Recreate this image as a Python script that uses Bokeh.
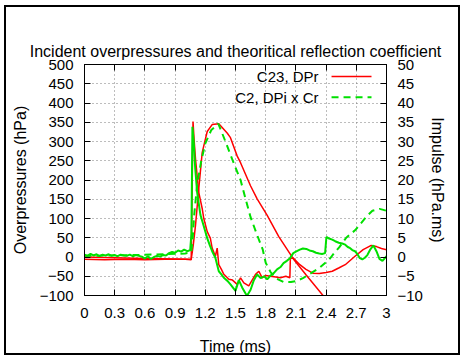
from bokeh.plotting import figure
from bokeh.models import (LinearAxis, Range1d, FixedTicker, Label, Arrow,
                          CustomJSTickFormatter)
from bokeh.embed import file_html
from bokeh.resources import INLINE

# ---- axis ticks -------------------------------------------------------
x_ticks = [0, 0.3, 0.6, 0.9, 1.2, 1.5, 1.8, 2.1, 2.4, 2.7, 3]
x_tick_labels = ["0", "0.3", "0.6", "0.9", "1.2", "1.5", "1.8", "2.1", "2.4", "2.7", "3"]
p_ticks = [-100, -50, 0, 50, 100, 150, 200, 250, 300, 350, 400, 450, 500]
imp_ticks = [-10, -5, 0, 5, 10, 15, 20, 25, 30, 35, 40, 45, 50]

# ---- C23 reflected overpressure (hPa) ----------------------------------
t_c23 = [0.0, 0.2, 0.4, 0.6, 0.8, 1.0, 1.06, 1.078, 1.09, 1.103, 1.135, 1.169,
         1.185, 1.219, 1.25, 1.268, 1.30, 1.318, 1.334, 1.36, 1.384, 1.434, 1.47,
         1.517, 1.55, 1.583, 1.632, 1.699, 1.732, 1.765, 1.80, 1.848, 1.90, 1.947,
         2.0, 2.04, 2.045, 2.074, 2.139, 2.20, 2.268, 2.332, 2.40, 2.461, 2.53,
         2.59, 2.687, 2.768, 2.848, 2.90, 2.95, 3.0]
p_c23 = [-6, -7, -6, -7, -6, -6, -7, 352, 300, 254, 168, 126,
         100, 66, 49, 23, 2, 23, -20, -32, -45, -58, -60,
         -71, -54, -67, -75, -45, -37, -54, -48, -50, -52, -54,
         -50, -54, -3, -3, -20, -32, -42, -43, -40, -37, -28,
         -20, 2, 19, 30, 27, 22, 19]

# ---- C23 impulse (hPa.ms) ----------------------------------------------
t_c23_imp = [0.0, 0.5, 1.0, 1.06, 1.08, 1.103, 1.135, 1.169, 1.219, 1.268, 1.334,
             1.417, 1.45, 1.517, 1.55, 1.649, 1.715, 1.815, 1.93, 2.075, 2.20, 2.385,
             2.42]
i_c23 = [0.0, -0.3, -0.6, -0.6, 3.0, 8.3, 17.7, 27.1, 32.6, 34.4, 34.6,
         32.2, 31.0, 26.2, 24.5, 18.5, 15.1, 10.8, 5.3, -0.5, -4.6, -10.5,
         -11.7]

# ---- C2 incident overpressure x reflection coefficient (hPa) ------------
t_c2 = [0.00, 0.03, 0.06, 0.09, 0.12, 0.15, 0.18, 0.21, 0.24, 0.27, 0.30, 0.33,
        0.36, 0.39, 0.42, 0.45, 0.48, 0.51, 0.54, 0.57, 0.60, 0.63, 0.66, 0.69,
        0.72, 0.75, 0.78, 0.81, 0.84, 0.87, 0.90, 0.93, 0.96, 0.99, 1.02, 1.05,
        1.062, 1.072, 1.085, 1.10, 1.119, 1.152, 1.185, 1.219, 1.245, 1.268, 1.30,
        1.334, 1.36, 1.384, 1.42, 1.45, 1.50, 1.533, 1.566, 1.60, 1.616, 1.65,
        1.68, 1.715, 1.75, 1.784, 1.815, 1.848, 1.88, 1.913, 1.947, 1.977, 2.01,
        2.042, 2.074, 2.10, 2.139, 2.17, 2.203, 2.235, 2.268, 2.30, 2.332, 2.36,
        2.39, 2.403, 2.43, 2.461, 2.49, 2.526, 2.56, 2.59, 2.615, 2.639, 2.66,
        2.687, 2.71, 2.735, 2.76, 2.785, 2.81, 2.84, 2.87, 2.90, 2.93, 2.96, 3.0]
p_c2 = [6, 3, 8, 4, 7, 2, 6, 4, 7, 3, 5, 2,
        6, 4, 3, 6, 2, 5, 3, 1, -4, 2, -5, 0,
        3, 1, 5, 4, 10, 13, 11, 17, 14, 19, 15, 18,
        60, 338, 300, 230, 168, 109, 80, 49, 30, 15, -2,
        -37, -45, -54, -62, -71, -88, -60, -79, -95, -100, -85,
        -62, -45, -55, -50, -58, -48, -42, -32, -26, -16, -10,
        -3, 10, 14, 19, 22, 21, 17, 15, 11, 9, 8,
        10, 52, 48, 45, 41, 37, 35, 32, 26, 23, 18,
        15, 8, -3, -6, -2, 5, 20, 30, 15, -5, -10, 2]

# ---- C2 impulse (hPa.ms) -----------------------------------------------
t_c2_imp = [0.0, 0.5, 1.0, 1.06, 1.075, 1.09, 1.12, 1.16, 1.20, 1.26, 1.33, 1.40,
            1.467, 1.55, 1.60, 1.649, 1.715, 1.77, 1.80, 1.85, 1.90, 1.98, 2.05,
            2.11, 2.17, 2.25, 2.33, 2.43, 2.48, 2.53, 2.60, 2.69, 2.77, 2.80, 2.86,
            2.93, 2.96, 3.0]
i_c2 = [0.3, 0.5, 0.9, 1.2, 5.0, 11.0, 19.0, 25.0, 29.5, 33.0, 34.6, 30.0,
        25.4, 20.0, 15.1, 10.4, 5.7, 2.0, -1.5, -4.0, -5.5, -6.5, -6.5,
        -6.2, -5.5, -4.2, -2.9, -0.7, 1.0, 2.5, 5.0, 7.0, 9.5, 10.5, 12.0,
        12.5, 12.3, 12.0]

TITLE = "Incident overpressures and theoritical reflection coefficient"

# ---- styling -----------------------------------------------------------
FONT = "Liberation Sans"
RED = "#ff0000"
GREEN = "#00e000"
DASH = "7 5"

# the figure sits inside a 2px black page frame drawn with CSS
p = figure(width=456, height=350, output_backend="svg", toolbar_location=None,
           x_range=Range1d(0, 3), y_range=Range1d(-100, 500), title=TITLE,
           x_axis_label="Time (ms)", y_axis_label="Overpressures (hPa)",
           min_border_left=78, min_border_right=76,
           min_border_top=57, min_border_bottom=59)
p.styles = {"border": "2px solid black", "margin-left": "4px", "margin-top": "5px"}
p.extra_y_ranges = {"impulse": Range1d(-10, 50)}

p.title.text_font = FONT
p.title.text_font_size = "16px"
p.title.text_font_style = "normal"
p.title.text_color = "black"
p.title.align = "center"
p.title.padding = (0, 0, 10, 0)

p.background_fill_color = "white"
p.border_fill_color = "white"
p.outline_line_color = "black"
p.outline_line_width = 1

bottom_axis = p.below[0]
left_axis = p.left[0]

right_axis = LinearAxis(y_range_name="impulse", axis_label="Impulse (hPa.ms)",
                        ticker=FixedTicker(ticks=imp_ticks))
p.add_layout(right_axis, "right")
# mirrored ticks along the top edge, without labels
top_axis = LinearAxis(ticker=FixedTicker(ticks=x_ticks),
                      formatter=CustomJSTickFormatter(code="return ''"))
p.add_layout(top_axis, "above")

bottom_axis.ticker = FixedTicker(ticks=x_ticks)
bottom_axis.major_label_overrides = dict(zip(x_ticks, x_tick_labels))
left_axis.ticker = FixedTicker(ticks=p_ticks)

for ax in (bottom_axis, left_axis, right_axis, top_axis):
    ax.major_tick_in = 6
    ax.major_tick_out = 0
    ax.minor_tick_line_color = None
    ax.axis_line_color = "black"
    ax.major_tick_line_color = "black"
    ax.major_label_text_font = FONT
    ax.major_label_text_font_size = "15px"
    ax.major_label_text_color = "black"
    ax.axis_label_text_font = FONT
    ax.axis_label_text_font_size = "16px"
    ax.axis_label_text_font_style = "normal"
    ax.axis_label_text_color = "black"

top_axis.major_label_standoff = 0
bottom_axis.major_label_standoff = 12
bottom_axis.axis_label_standoff = 17
left_axis.major_label_standoff = 11
left_axis.axis_label_standoff = 8
right_axis.major_label_standoff = 11
right_axis.axis_label_standoff = 3
right_axis.axis_label_orientation = "vertical"

for g in (p.xgrid, p.ygrid):
    g.grid_line_color = "#7a7a7a"
    g.grid_line_dash = "1 3"
    g.grid_line_width = 1
p.xgrid.ticker = FixedTicker(ticks=x_ticks)
p.ygrid.ticker = FixedTicker(ticks=p_ticks)

# ---- curves ------------------------------------------------------------
p.line(t_c23, p_c23, line_color=RED, line_width=1.5)
p.line(t_c23_imp, i_c23, line_color=RED, line_width=1.5, y_range_name="impulse")
p.line(t_c2, p_c2, line_color=GREEN, line_width=2)
p.line(t_c2_imp, i_c2, line_color=GREEN, line_width=2, line_dash=DASH,
       y_range_name="impulse")

# ---- key (text followed by a sample line) -----------------------------
key_text_x = 2.325
key_line_x = (2.454, 2.851)
key_rows = [("C23, DPr", RED, "solid", 469), ("C2, DPi x Cr", GREEN, DASH, 415)]
for text, color, dash, ky in key_rows:
    p.add_layout(Label(x=key_text_x, y=ky, text=text, text_align="right",
                       text_baseline="middle", text_font=FONT,
                       text_font_size="15px", text_color="black"))
    p.add_layout(Arrow(end=None, x_start=key_line_x[0], y_start=ky,
                       x_end=key_line_x[1], y_end=ky, line_color=color,
                       line_width=2 if color == GREEN else 1.5, line_dash=dash))

open("out.html", "w").write(file_html(p, INLINE))
